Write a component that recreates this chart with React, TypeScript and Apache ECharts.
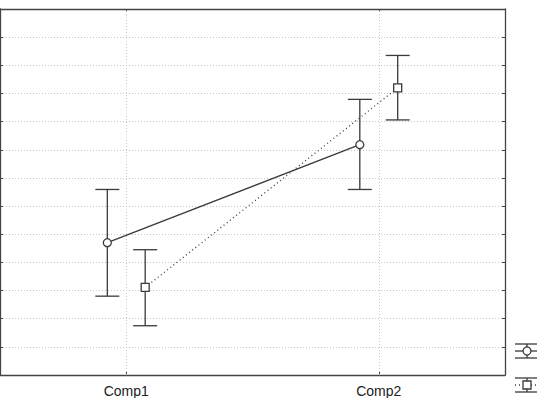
import React, { useEffect, useRef } from "react";
import * as echarts from "echarts";

const categories = ["Comp1", "Comp2"];
const series1Mean = [4.7, 8.18];
const series1Low = [2.8, 6.59];
const series1High = [6.59, 9.79];
const series2Mean = [3.11, 10.2];
const series2Low = [1.75, 9.06];
const series2High = [4.45, 11.35];

const Y_MIN = 0;
const Y_MAX = 13;
const Y_STEP = 1;

export default function App() {
  const ref = useRef<HTMLDivElement>(null);
  useEffect(() => {
    if (!ref.current) return;
    const chart = echarts.init(ref.current, null, { renderer: "svg" });
    const dark = "#3a3a3a";
    const offset = 0.075;
    const s1x = categories.map((_, i) => i - offset);
    const s2x = categories.map((_, i) => i + offset);
    const gridColor = "#c8c8c8";

    const errSeries = (xs: number[], lo: number[], hi: number[]) => ({
      type: "custom",
      xAxisIndex: 2,
      yAxisIndex: 0,
      z: 2,
      data: xs.map((x, i) => [x, lo[i], hi[i]]),
      renderItem: (params: any, api: any) => {
        const x = api.value(0);
        const a = api.coord([x, api.value(1)]);
        const b = api.coord([x, api.value(2)]);
        const hw = 12;
        const st = { stroke: dark, lineWidth: 1.3 };
        return {
          type: "group",
          children: [
            { type: "line", shape: { x1: a[0], y1: a[1], x2: b[0], y2: b[1] }, style: st },
            { type: "line", shape: { x1: a[0] - hw, y1: a[1], x2: a[0] + hw, y2: a[1] }, style: st },
            { type: "line", shape: { x1: b[0] - hw, y1: b[1], x2: b[0] + hw, y2: b[1] }, style: st },
          ],
        };
      },
    });

    const legendIcon = (y: number, circle: boolean) => {
      const st = { stroke: dark, lineWidth: 1.3 };
      const cx = 527;
      const children: any[] = [
        { type: "line", shape: { x1: 515, y1: y - 7, x2: 540, y2: y - 7 }, style: st },
        { type: "line", shape: { x1: 515, y1: y + 7, x2: 540, y2: y + 7 }, style: st },
        { type: "line", shape: { x1: cx, y1: y - 7, x2: cx, y2: y + 7 }, style: st },
        {
          type: "line",
          shape: { x1: 515, y1: y, x2: 540, y2: y },
          style: circle ? st : { ...st, lineDash: [1, 3] },
        },
      ];
      if (circle) {
        children.push({ type: "circle", shape: { cx, cy: y, r: 4 }, style: { fill: "#fff", stroke: dark, lineWidth: 1.3 } });
      } else {
        children.push({ type: "rect", shape: { x: cx - 4, y: y - 4, width: 8, height: 8 }, style: { fill: "#fff", stroke: dark, lineWidth: 1.3 } });
      }
      return { type: "group", children };
    };

    const splitStyle = { show: true, lineStyle: { color: gridColor, type: [1, 2], width: 1 } };
    const axisLine = { show: true, onZero: false, lineStyle: { color: "#444", width: 1.3 } };

    chart.setOption({
      animation: false,
      backgroundColor: "#fff",
      grid: { left: 0, right: 32, top: 9, bottom: 22, containLabel: false },
      xAxis: [
        {
          type: "category",
          data: categories,
          position: "bottom",
          axisLine,
          axisTick: { show: true, inside: true, alignWithLabel: true, length: 3, lineStyle: { color: "#444" } },
          axisLabel: { fontFamily: "Liberation Sans", fontSize: 14, color: "#222", margin: 9 },
          splitLine: { show: false },
        },
        {
          type: "category",
          data: categories,
          position: "top",
          axisLine,
          axisTick: { show: true, inside: true, alignWithLabel: true, length: 3, lineStyle: { color: "#444" } },
          axisLabel: { show: false },
          splitLine: { show: false },
        },
        { type: "value", min: -0.5, max: categories.length - 0.5, show: false },
      ],
      yAxis: [
        {
          type: "value",
          min: Y_MIN,
          max: Y_MAX,
          interval: Y_STEP,
          position: "left",
          axisLine,
          axisTick: { show: true, inside: true, length: 3, lineStyle: { color: "#444" } },
          axisLabel: { show: false },
          splitLine: splitStyle,
        },
        {
          type: "value",
          min: Y_MIN,
          max: Y_MAX,
          interval: Y_STEP,
          position: "right",
          axisLine,
          axisTick: { show: true, inside: true, length: 3, lineStyle: { color: "#444" } },
          axisLabel: { show: false },
          splitLine: { show: false },
        },
      ],
      series: [
        {
          type: "line",
          xAxisIndex: 2,
          yAxisIndex: 0,
          z: 1,
          data: [],
          markLine: {
            silent: true,
            symbol: "none",
            label: { show: false },
            lineStyle: { color: gridColor, type: [1, 2], width: 1 },
            data: categories.map((_, i) => ({ xAxis: i })),
          },
        },
        errSeries(s1x, series1Low, series1High),
        errSeries(s2x, series2Low, series2High),
        {
          type: "line",
          xAxisIndex: 2,
          yAxisIndex: 0,
          z: 3,
          data: s1x.map((x, i) => [x, series1Mean[i]]),
          symbol: "circle",
          symbolSize: 8,
          lineStyle: { color: dark, width: 1.3 },
          itemStyle: { color: "#fff", borderColor: dark, borderWidth: 1.3 },
        },
        {
          type: "line",
          xAxisIndex: 2,
          yAxisIndex: 0,
          z: 3,
          data: s2x.map((x, i) => [x, series2Mean[i]]),
          symbol: "rect",
          symbolSize: 8,
          lineStyle: { color: dark, width: 1.3, type: [1, 3] },
          itemStyle: { color: "#fff", borderColor: dark, borderWidth: 1.3 },
        },
      ],
      graphic: [legendIcon(351, true), legendIcon(385, false)],
    });
    return () => chart.dispose();
  }, []);
  return <div ref={ref} style={{ position: "fixed", left: 0, top: 0, width: 537, height: 398 }} />;
}
